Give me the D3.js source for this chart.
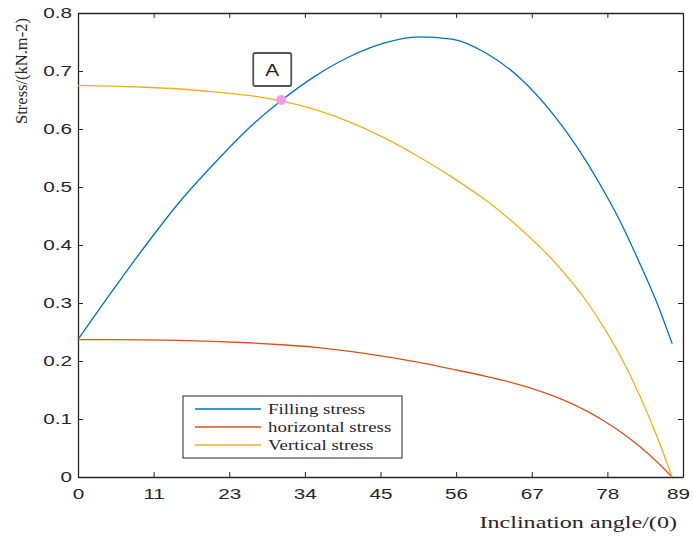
<!DOCTYPE html>
<html>
<head>
<meta charset="utf-8">
<script src="https://cdn.jsdelivr.net/npm/d3@7"></script>
<style>
  body { margin: 0; background: #fff; }
  svg { display: block; }
</style>
</head>
<body>
<svg width="693" height="536"></svg>
<script>
// angle in degrees
const angles      = [0, 5, 10, 15, 20, 25, 30, 35, 40, 45, 50, 55, 60, 65, 70, 75, 77.5, 80, 82.5, 85, 87.4];
const filling     = [0.237, 0.32, 0.40, 0.475, 0.54, 0.60, 0.65, 0.692, 0.725, 0.748, 0.759, 0.755, 0.731, 0.688, 0.624, 0.54, 0.49, 0.435, 0.372, 0.305, 0.23];
const horizontal  = [0.237, 0.237, 0.2365, 0.2355, 0.234, 0.2315, 0.228, 0.2235, 0.2165, 0.208, 0.198, 0.186, 0.1736, 0.1588, 0.1393, 0.1126, 0.0958, 0.0763, 0.0539, 0.0281, 0];
const vertical    = [0.675, 0.674, 0.672, 0.669, 0.664, 0.658, 0.648, 0.633, 0.612, 0.585, 0.553, 0.517, 0.477, 0.429, 0.372, 0.300, 0.255, 0.204, 0.144, 0.075, 0];
const seriesNames = ["Filling stress", "horizontal stress", "Vertical stress"];
const seriesColors = ["#0072BD", "#D95319", "#EDB120"];
const xTickLabels = ["0", "11", "23", "34", "45", "56", "67", "78", "89"];
const yTicks      = [0, 0.1, 0.2, 0.3, 0.4, 0.5, 0.6, 0.7, 0.8];
const pointA      = { angle: 29.9, value: 0.65, label: "A" };

const svg = d3.select("svg");
const margin = { left: 78, right: 10, top: 13, bottom: 59 };
const W = 693, H = 536;

let x = d3.scaleLinear().domain([0, 89]).range([margin.left, W - margin.right]);
let y = d3.scaleLinear().domain([0, 0.8]).range([H - margin.bottom, margin.top]);

const axisColor = "#262626";
const tickFont = "'Liberation Sans', Arial, sans-serif";
const serif = "'Liberation Serif', 'Times New Roman', serif";
const stretch = 1.38; // the source picture is stretched sideways

// x ticks evenly spaced, labelled with rounded values
let xTickVals = xTickLabels.map((d, i) => i * 89 / 8);

let xAxis = d3.axisBottom(x).tickValues(xTickVals)
    .tickFormat((d, i) => xTickLabels[i]).tickSizeInner(-5).tickSizeOuter(0).tickPadding(11);
let xAxisTop = d3.axisTop(x).tickValues(xTickVals)
    .tickFormat("").tickSizeInner(-5).tickSizeOuter(0);
let yAxis = d3.axisLeft(y).tickValues(yTicks)
    .tickFormat(d => d === 0 ? "0" : d3.format(".1f")(d)).tickSizeInner(-5).tickSizeOuter(0);
let yAxisRight = d3.axisRight(y).tickValues(yTicks)
    .tickFormat("").tickSizeInner(-5).tickSizeOuter(0);

function styleAxis(g) {
    g.select(".domain").attr("stroke", axisColor).attr("stroke-width", 1.3);
    g.selectAll(".tick line").attr("stroke", axisColor).attr("stroke-width", 1);
    g.selectAll(".tick text").attr("fill", axisColor)
        .style("font-family", tickFont).style("font-size", "15px")
        .attr("transform", `scale(${stretch},1)`);
}

let gx = svg.append("g").attr("transform", `translate(0,${y(0)})`).call(xAxis).call(styleAxis);
// last label sits at the image edge, nudge it in
gx.selectAll(".tick text").filter((d, i) => i === xTickLabels.length - 1)
    .attr("x", -5 / stretch);
svg.append("g").attr("transform", `translate(0,${y(0.8)})`).call(xAxisTop).call(styleAxis);
svg.append("g").attr("transform", `translate(${x(0)},0)`).call(yAxis).call(styleAxis)
    .selectAll(".tick text").attr("x", -6 / stretch);
svg.append("g").attr("transform", `translate(${x(89)},0)`).call(yAxisRight).call(styleAxis);

// curves
let allSeries = [filling, horizontal, vertical];
let line = d3.line()
    .x(d => x(d[0]))
    .y(d => y(d[1]))
    .curve(d3.curveMonotoneX);

svg.selectAll(".series")
    .data(allSeries)
    .enter()
    .append("path")
    .attr("class", "series")
    .attr("d", vals => line(vals.map((v, i) => [angles[i], v])))
    .attr("fill", "none")
    .attr("stroke", (d, i) => seriesColors[i])
    .attr("stroke-width", 1.3);

// point A
svg.append("circle")
    .attr("cx", x(pointA.angle))
    .attr("cy", y(pointA.value))
    .attr("r", 5)
    .attr("fill", "#f49af0");

let ax = x(pointA.angle) - 9, ay = y(pointA.value) - 30;
svg.append("rect")
    .attr("x", ax - 19).attr("y", ay - 17)
    .attr("width", 38).attr("height", 33)
    .attr("rx", 2)
    .attr("fill", "#fff")
    .attr("stroke", "#555")
    .attr("stroke-width", 1.8);
svg.append("text")
    .attr("transform", `translate(${ax},${ay + 6}) scale(1.3,1)`)
    .attr("text-anchor", "middle")
    .style("font-family", tickFont)
    .style("font-size", "16px")
    .attr("fill", "#222")
    .text(pointA.label);

// legend
let lg = svg.append("g").attr("transform", "translate(183,396)");
lg.append("rect")
    .attr("width", 219).attr("height", 62)
    .attr("fill", "#fff")
    .attr("stroke", axisColor)
    .attr("stroke-width", 1);
seriesNames.forEach((name, i) => {
    let ly = 13 + i * 18;
    lg.append("line")
        .attr("x1", 12).attr("x2", 78)
        .attr("y1", ly).attr("y2", ly)
        .attr("stroke", seriesColors[i])
        .attr("stroke-width", 1.3);
    lg.append("text")
        .attr("transform", `translate(85,${ly + 5}) scale(1.26,1)`)
        .style("font-family", serif)
        .style("font-size", "15px")
        .attr("fill", axisColor)
        .text(name);
});

// axis titles
svg.append("text")
    .attr("transform", "translate(27,71) rotate(-90)")
    .attr("text-anchor", "middle")
    .style("font-family", serif)
    .style("font-size", "16.5px")
    .attr("fill", axisColor)
    .text("Stress/(kN.m-2)");

svg.append("text")
    .attr("transform", "translate(677,528) scale(1.42,1)")
    .attr("text-anchor", "end")
    .style("font-family", serif)
    .style("font-size", "17px")
    .attr("fill", axisColor)
    .text("Inclination angle/(0)");
</script>
</body>
</html>
